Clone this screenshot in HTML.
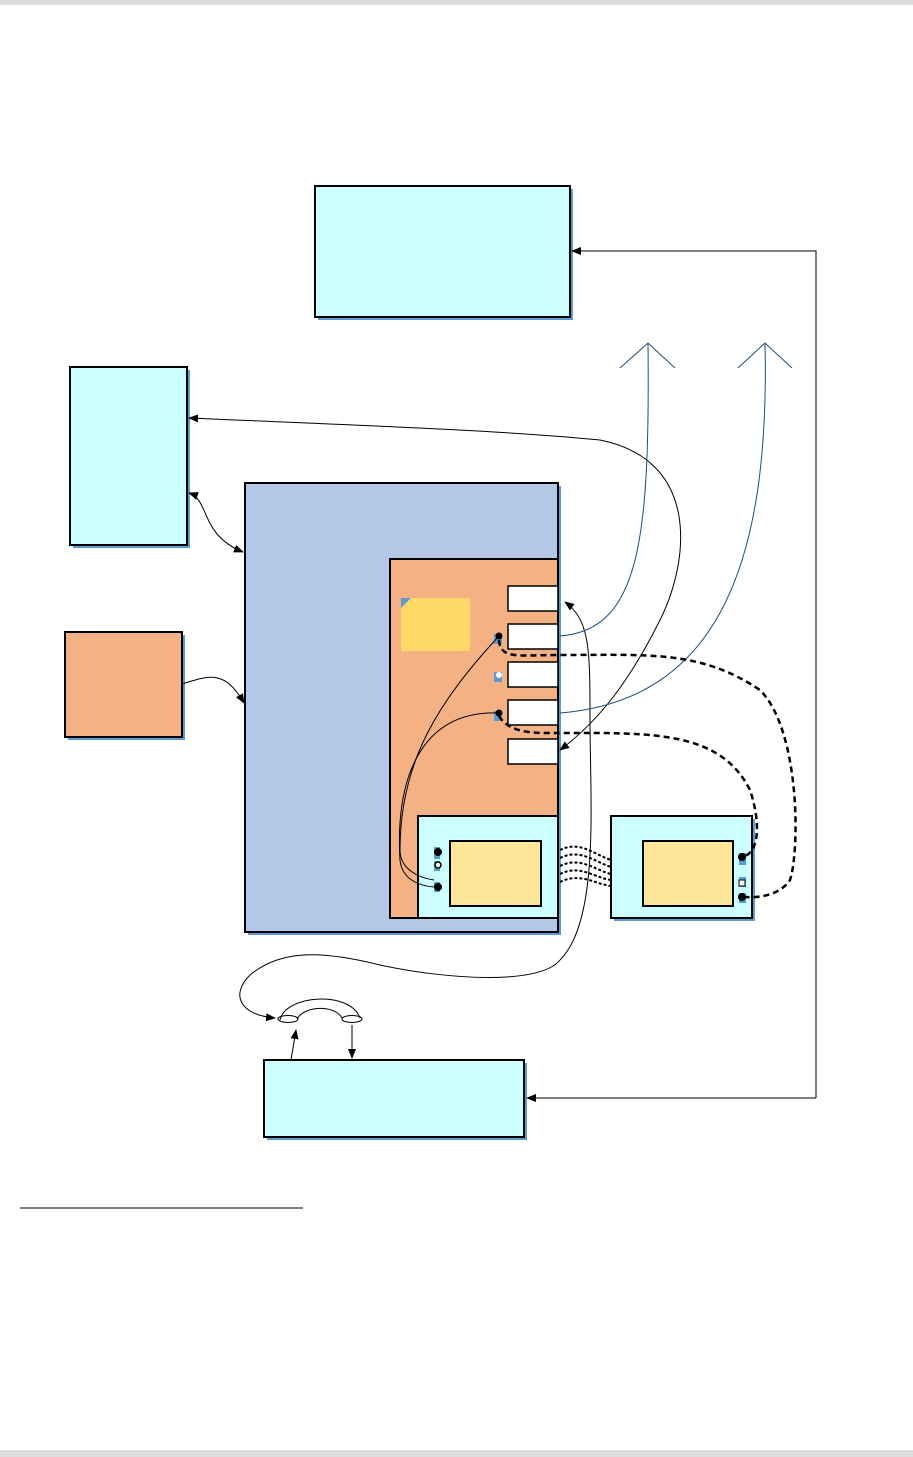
<!DOCTYPE html>
<html><head><meta charset="utf-8"><style>body{margin:0;background:#fff}svg{display:block}</style></head><body>
<svg width="913" height="1457" viewBox="0 0 913 1457" xmlns="http://www.w3.org/2000/svg">
<defs>
<marker id="a" markerWidth="10" markerHeight="8" refX="9" refY="4" orient="auto-start-reverse" markerUnits="userSpaceOnUse"><path d="M0,0L10,4L0,8z" fill="#000"/></marker>
</defs>
<rect x="0" y="0" width="913" height="5" fill="#ddd"/>
<rect x="0" y="1450" width="913" height="7" fill="#ddd"/>
<line x1="20" y1="1208" x2="303" y2="1208" stroke="#000" stroke-width="1"/>
<g stroke="#000" stroke-width="2">
<rect x="318" y="189" width="255" height="131" fill="#5b9bd5" stroke="none"/>
<rect x="315" y="186" width="255" height="131" fill="#CCFFFF"/>
<rect x="73" y="370" width="117" height="178" fill="#5b9bd5" stroke="none"/>
<rect x="70" y="367" width="117" height="178" fill="#CCFFFF"/>
<rect x="68" y="635" width="117" height="105" fill="#5b9bd5" stroke="none"/>
<rect x="65" y="632" width="117" height="105" fill="#F4B183"/>
<rect x="248" y="486" width="313" height="449" fill="#5b9bd5" stroke="none"/>
<rect x="245" y="483" width="313" height="449" fill="#B4C7E7"/>
<rect x="390" y="559" width="168" height="359" fill="#F4B183"/>
<rect x="401" y="598" width="69" height="53" fill="#FFD966" stroke="none"/>
<path d="M401,598h10l-10,10z" fill="#5b9bd5" stroke="none"/>
<rect x="418" y="816" width="140" height="102" fill="#CCFFFF"/>
<rect x="450" y="841" width="91" height="65" fill="#FFE699"/>
<rect x="614" y="819" width="141" height="102" fill="#5b9bd5" stroke="none"/>
<rect x="611" y="816" width="141" height="102" fill="#CCFFFF"/>
<rect x="643" y="841" width="90" height="65" fill="#FFE699"/>
<rect x="267" y="1063" width="260" height="77" fill="#5b9bd5" stroke="none"/>
<rect x="264" y="1060" width="260" height="77" fill="#CCFFFF"/>
</g>
<g stroke="#000" stroke-width="1.5" fill="#fff">
<rect x="508" y="586" width="50" height="25"/>
<rect x="508" y="624" width="50" height="25"/>
<rect x="508" y="662" width="50" height="25"/>
<rect x="508" y="700" width="50" height="25"/>
<rect x="508" y="739" width="50" height="25"/>
</g>
<g fill="#5b9bd5">
<rect x="494" y="634" width="8" height="10"/><rect x="494" y="672" width="8" height="10"/><rect x="494" y="711" width="8" height="10"/>
<rect x="434" y="847" width="6" height="12"/><rect x="434" y="861" width="6" height="10"/><rect x="434" y="882" width="6" height="10"/>
<rect x="739" y="853" width="7" height="12"/><rect x="739" y="877" width="7" height="10"/><rect x="739" y="893" width="7" height="10"/>
</g>
<g fill="#000"><circle cx="499" cy="636" r="3.5"/><circle cx="499" cy="713" r="3.5"/>
<circle cx="438" cy="852" r="4"/><circle cx="438" cy="887" r="4"/><circle cx="742" cy="857" r="4"/><circle cx="742" cy="897" r="4"/></g>
<circle cx="438" cy="865" r="3" fill="#fff" stroke="#000" stroke-width="1.5"/>
<circle cx="499" cy="675" r="3" fill="#fff"/><rect x="739" y="880" width="6" height="6" fill="#fff" stroke="#000"/>
<g fill="none" stroke="#000" stroke-width="1">
<path d="M816,1098V251H572" marker-end="url(#a)"/>
<path d="M816,1098H527" marker-end="url(#a)"/>
<path d="M189,418C350,425 500,430 600,440C700,460 690,560 660,620C630,680 600,720 560,750" marker-end="url(#a)" marker-start="url(#a)"/>
<path d="M189,493C210,500 200,535 243,552" marker-end="url(#a)" marker-start="url(#a)"/>
<path d="M182,684C210,675 225,670 244,703" marker-end="url(#a)"/>
<path d="M560,960C540,985 450,980 380,965C320,950 280,950 250,975C230,995 240,1015 275,1018" marker-end="url(#a)"/>
<path d="M560,960C600,920 590,800 590,720C590,650 590,620 565,602" marker-end="url(#a)"/>
<path d="M291,1060L296,1030" marker-end="url(#a)"/>
<path d="M352,1025L352,1058" marker-end="url(#a)"/>
<path d="M280,1020C285,995 350,990 360,1018M297,1019C305,1005 335,1005 342,1018"/>
<ellipse cx="288" cy="1019" rx="10" ry="3.5"/><ellipse cx="352" cy="1019" rx="10" ry="3.5"/>
<path d="M499,636C440,700 400,760 400,850C400,870 420,878 434,880"/>
<path d="M499,713C420,710 395,780 400,860C402,880 420,886 434,887"/>
</g>
<g fill="none" stroke="#1f4e79" stroke-width="1">
<path d="M560,636C640,630 650,540 648,343"/>
<path d="M620,368L648,343L675,368"/>
<path d="M560,713C720,700 770,560 765,343"/>
<path d="M738,368L765,343L792,368"/>
</g>
<g fill="none" stroke="#000" stroke-width="2.5" stroke-dasharray="6,4">
<path d="M499,640C500,660 520,655 560,655C650,655 700,650 760,690C800,730 800,850 790,880C780,895 760,898 745,897"/>
<path d="M499,716C510,735 540,733 560,733C650,733 720,730 750,790C760,820 760,850 745,856"/>
</g>
<g fill="none" stroke="#000" stroke-width="2" stroke-dasharray="3,2">
<path d="M560,850C580,840 595,855 611,860"/>
<path d="M560,858C580,848 595,862 611,867"/>
<path d="M560,866C580,856 595,870 611,874"/>
<path d="M560,874C580,864 595,878 611,880"/>
<path d="M560,882C580,872 595,884 611,886"/>
</g>
</svg>
</body></html>
